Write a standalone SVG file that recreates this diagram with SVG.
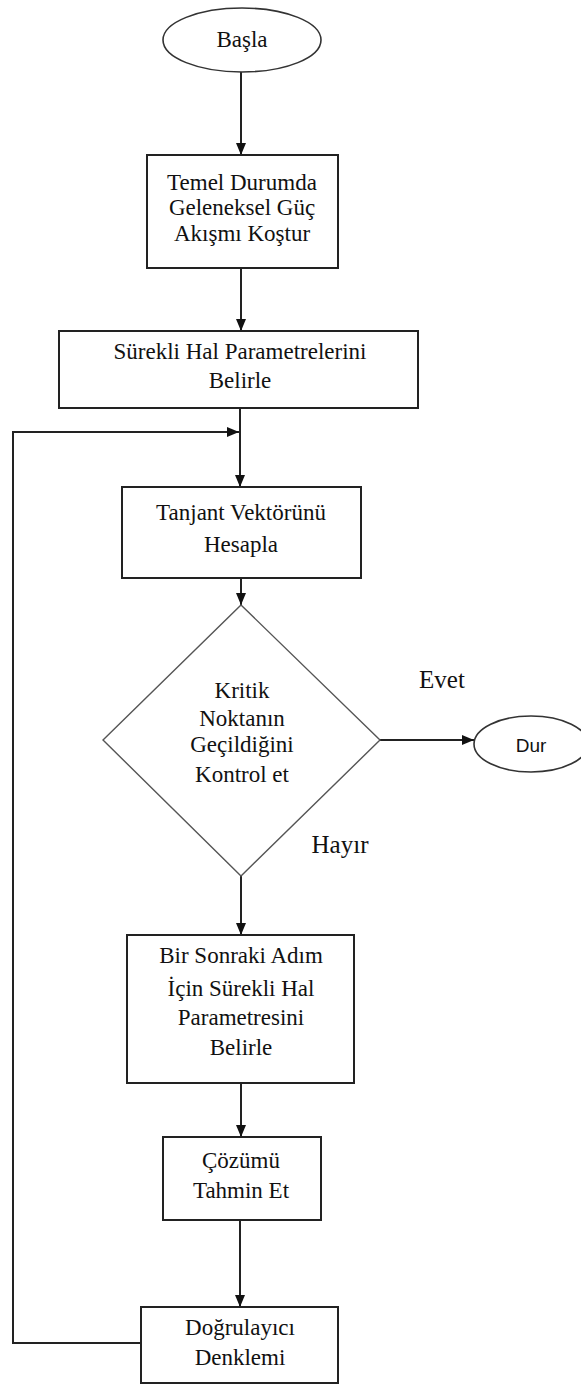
<svg xmlns="http://www.w3.org/2000/svg" width="581" height="1385" viewBox="0 0 581 1385">
<defs>
<style>
.b{fill:#fff;stroke:#222;stroke-width:2}
.e{fill:#fff;stroke:#333;stroke-width:1.6}
.d{fill:#fff;stroke:#555;stroke-width:1.4}
.t{font-family:"Liberation Serif","Times New Roman",serif;font-size:23px;fill:#111;text-anchor:middle}
.l{font-family:"Liberation Serif","Times New Roman",serif;font-size:25px;fill:#111;text-anchor:middle}
.s{font-family:"Liberation Sans",Arial,sans-serif;font-size:19px;fill:#111;text-anchor:middle}
.c{fill:none;stroke:#222;stroke-width:2}
</style>
<marker id="ah" viewBox="0 0 12 10" refX="12" refY="5" markerWidth="12" markerHeight="10" markerUnits="userSpaceOnUse" orient="auto">
<path d="M0,0 L12,5 L0,10 z" fill="#111"/>
</marker>
</defs>
<rect width="581" height="1385" fill="#fff"/>
<g id="connectors">
<path class="c" d="M241,72 V155" marker-end="url(#ah)"/>
<path class="c" d="M241,268 V331" marker-end="url(#ah)"/>
<path class="c" d="M240,408 V487" marker-end="url(#ah)"/>
<path class="c" d="M241,578 V605" marker-end="url(#ah)"/>
<path class="c" d="M380,740 H474" marker-end="url(#ah)"/>
<path class="c" d="M241,876 V935" marker-end="url(#ah)"/>
<path class="c" d="M241,1083 V1137" marker-end="url(#ah)"/>
<path class="c" d="M240,1220 V1307" marker-end="url(#ah)"/>
<path class="c" d="M141,1343 H13 V432 H239" marker-end="url(#ah)"/>
</g>
<g id="basla">
<ellipse class="e" cx="242" cy="40" rx="79" ry="32"/>
<text class="t" x="242" y="47">Başla</text>
</g>
<g id="box1">
<rect class="b" x="147" y="155" width="191" height="113"/>
<text class="t" x="242" y="190">Temel Durumda</text>
<text class="t" x="242" y="215">Geleneksel Güç</text>
<text class="t" x="242" y="241">Akışmı Koştur</text>
</g>
<g id="box2">
<rect class="b" x="59" y="331" width="359" height="77"/>
<text class="t" x="240" y="359">Sürekli Hal Parametrelerini</text>
<text class="t" x="240" y="388">Belirle</text>
</g>
<g id="box3">
<rect class="b" x="122" y="487" width="239" height="91"/>
<text class="t" x="241" y="520">Tanjant Vektörünü</text>
<text class="t" x="241" y="552">Hesapla</text>
</g>
<g id="decision">
<polygon class="d" points="241,605 380,740 241,876 103,740"/>
<text class="t" x="242" y="698">Kritik</text>
<text class="t" x="242" y="726">Noktanın</text>
<text class="t" x="242" y="752">Geçildiğini</text>
<text class="t" x="242" y="782">Kontrol et</text>
</g>
<text class="l" x="442" y="688">Evet</text>
<text class="l" x="340" y="853">Hayır</text>
<g id="dur">
<ellipse class="e" cx="531" cy="744" rx="57" ry="28"/>
<text class="s" x="531" y="752">Dur</text>
</g>
<g id="box4">
<rect class="b" x="127" y="935" width="227" height="148"/>
<text class="t" x="241" y="963">Bir Sonraki Adım</text>
<text class="t" x="241" y="996">İçin Sürekli Hal</text>
<text class="t" x="241" y="1025">Parametresini</text>
<text class="t" x="241" y="1055">Belirle</text>
</g>
<g id="box5">
<rect class="b" x="163" y="1137" width="158" height="83"/>
<text class="t" x="241" y="1168">Çözümü</text>
<text class="t" x="241" y="1198">Tahmin Et</text>
</g>
<g id="box6">
<rect class="b" x="141" y="1307" width="197" height="76"/>
<text class="t" x="240" y="1335">Doğrulayıcı</text>
<text class="t" x="240" y="1365">Denklemi</text>
</g>
</svg>
